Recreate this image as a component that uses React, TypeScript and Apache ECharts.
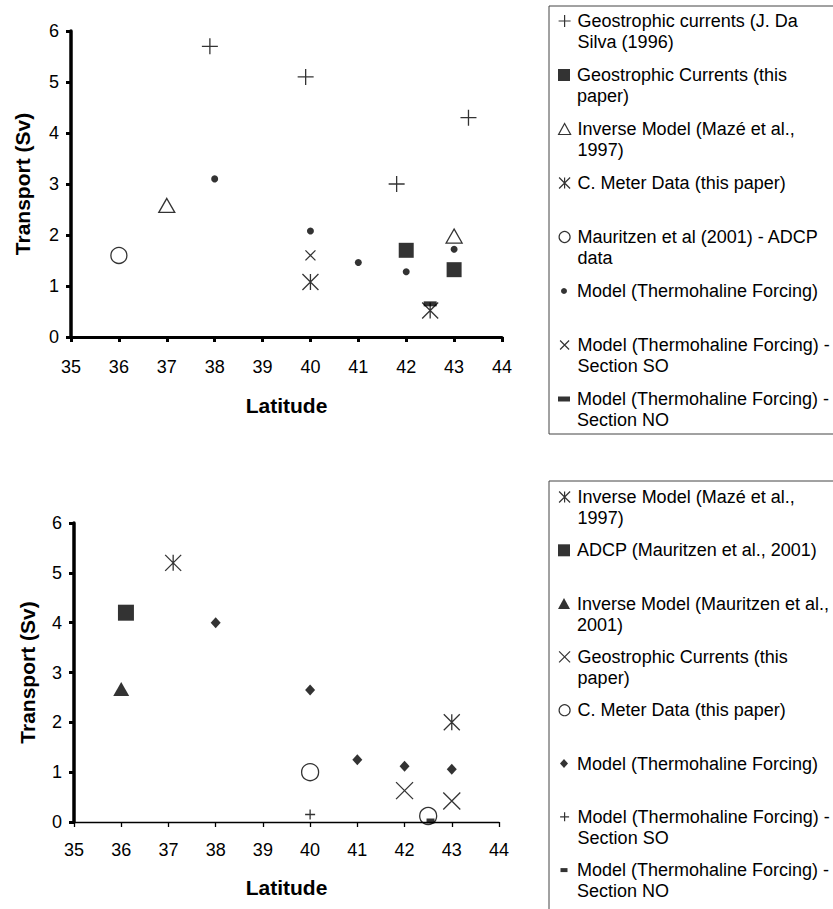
import React, { useEffect, useRef } from "react";
import * as echarts from "echarts";

const FONT = '"Liberation Sans", Arial, Helvetica, sans-serif';

// ---- upper panel: transport vs latitude ----
const upDaSilva = [[37.9, 5.7], [39.9, 5.1], [41.8, 3.0], [43.3, 4.3]];
const upGeoThis = [[42, 1.7], [43, 1.32]];
const upInverseMaze = [[37, 2.58], [43, 1.98]];
const upCMeter = [[40, 1.08], [42.5, 0.52]];
const upMauritzenAdcp = [[36, 1.6]];
const upModel = [[38, 3.1], [40, 2.08], [41, 1.46], [42, 1.28], [43, 1.72]];
const upModelSO = [[40, 1.6]];
const upModelNO = [[42.5, 0.65]];

// ---- lower panel ----
const loInverseMaze = [[37.1, 5.2], [43, 2.0]];
const loAdcp = [[36.1, 4.2]];
const loInverseMauritzen = [[36, 2.67]];
const loGeoThis = [[42, 0.63], [43, 0.42]];
const loCMeter = [[40, 1.0], [42.5, 0.12]];
const loModel = [[38, 4.0], [40, 2.65], [41, 1.25], [42, 1.12], [43, 1.06]];
const loModelSO = [[40, 0.15]];
const loModelNO = [[42.55, 0.02]];

const latTicks = { min: 35, max: 44, step: 1 };
const transportTicks = { min: 0, max: 6, step: 1 };

const PLUS = "path://M5,0L5,10M0,5L10,5";
const CROSS = "path://M0,0L10,10M10,0L0,10";
const STAR = "path://M0,0L10,10M10,0L0,10M5,0L5,10";

type Entry = {
  key: string;
  label: string;
  data: number[][];
  symbol: string;
  size: number | number[];
  filled: boolean;
  lw: number;
  lh: number;
};

const upperEntries: Entry[] = [
  { key: "daSilva", label: "Geostrophic currents (J. Da\nSilva (1996)", data: upDaSilva, symbol: PLUS, size: 16, filled: false, lw: 12, lh: 12 },
  { key: "geoThis", label: "Geostrophic Currents (this\npaper)", data: upGeoThis, symbol: "rect", size: 15, filled: true, lw: 12, lh: 12 },
  { key: "inverseMaze", label: "Inverse Model (Mazé et al.,\n1997)", data: upInverseMaze, symbol: "triangle", size: [16, 14], filled: false, lw: 12, lh: 11 },
  { key: "cMeter", label: "C. Meter Data (this paper)", data: upCMeter, symbol: STAR, size: 16, filled: false, lw: 11, lh: 11 },
  { key: "mauritzenAdcp", label: "Mauritzen et al (2001) - ADCP\ndata", data: upMauritzenAdcp, symbol: "circle", size: 16, filled: false, lw: 11, lh: 11 },
  { key: "model", label: "Model (Thermohaline Forcing)", data: upModel, symbol: "circle", size: 7, filled: true, lw: 6, lh: 6 },
  { key: "modelSO", label: "Model (Thermohaline Forcing) -\nSection SO", data: upModelSO, symbol: CROSS, size: 10, filled: false, lw: 9, lh: 9 },
  { key: "modelNO", label: "Model (Thermohaline Forcing) -\nSection NO", data: upModelNO, symbol: "rect", size: [13, 5], filled: true, lw: 12, lh: 5 },
];

const lowerEntries: Entry[] = [
  { key: "inverseMaze", label: "Inverse Model (Mazé et al.,\n1997)", data: loInverseMaze, symbol: STAR, size: 16, filled: false, lw: 11, lh: 11 },
  { key: "adcp", label: "ADCP (Mauritzen et al., 2001)", data: loAdcp, symbol: "rect", size: 16, filled: true, lw: 12, lh: 12 },
  { key: "inverseMauritzen", label: "Inverse Model (Mauritzen et al.,\n2001)", data: loInverseMauritzen, symbol: "triangle", size: [16, 14], filled: true, lw: 12, lh: 11 },
  { key: "geoThis", label: "Geostrophic Currents (this\npaper)", data: loGeoThis, symbol: CROSS, size: 17, filled: false, lw: 11, lh: 11 },
  { key: "cMeter", label: "C. Meter Data (this paper)", data: loCMeter, symbol: "circle", size: 17, filled: false, lw: 11, lh: 11 },
  { key: "model", label: "Model (Thermohaline Forcing)", data: loModel, symbol: "diamond", size: [10, 11], filled: true, lw: 8, lh: 9 },
  { key: "modelSO", label: "Model (Thermohaline Forcing) -\nSection SO", data: loModelSO, symbol: PLUS, size: 10, filled: false, lw: 9, lh: 9 },
  { key: "modelNO", label: "Model (Thermohaline Forcing) -\nSection NO", data: loModelNO, symbol: "rect", size: [8, 5], filled: true, lw: 7, lh: 4 },
];

const SYM_X = 564;
const TEXT_X = 577;
const LINE_H = 21;

function makeSeries(entries: Entry[]) {
  return entries.map((e) => ({
    type: "scatter",
    name: e.key,
    data: e.data,
    symbol: e.symbol,
    symbolSize: e.size,
    itemStyle: e.filled
      ? { color: "#000", borderWidth: 0 }
      : { color: "transparent", borderColor: "#000", borderWidth: 1.3 },
    emphasis: { disabled: true },
  }));
}

// One legend block per entry; a two-line label gets an empty leading line so
// that its first line sits level with the icon. A rich-text left padding keeps
// every label starting at the same x whatever the icon width.
function makeLegends(entries: Entry[], firstLineY: number, step: number) {
  return entries.map((e, i) => {
    const lines = e.label.split("\n");
    const cy = firstLineY + i * step;
    const left = SYM_X - e.lw / 2;
    const pad = Math.max(0, TEXT_X - (left + e.lw + 5));
    const rows = lines.length === 2 ? [" ", ...lines] : lines;
    const text = rows.map((r) => `{t|${r}}`).join("\n");
    return {
      data: [e.key],
      left,
      top: cy - (lines.length === 2 ? 1.5 * LINE_H : 0.5 * LINE_H),
      padding: 0,
      itemWidth: e.lw,
      itemHeight: e.lh,
      selectedMode: false,
      formatter: () => text,
      itemStyle: { borderWidth: e.filled ? 0 : 1.2 },
      textStyle: {
        fontFamily: FONT,
        fontSize: 18,
        color: "#000",
        lineHeight: LINE_H,
        rich: {
          t: {
            fontFamily: FONT,
            fontSize: 18,
            color: "#000",
            lineHeight: LINE_H,
            padding: [0, 0, 0, pad],
          },
        },
      },
    };
  });
}

function axes(thickX: boolean, labelMargin: number, nameGapX: number, nameGapY: number) {
  const labelStyle = { fontFamily: FONT, fontSize: 18, color: "#000" };
  const nameStyle = { fontFamily: FONT, fontSize: 21, fontWeight: "bold", color: "#000" };
  return {
    xAxis: {
      type: "value",
      min: latTicks.min,
      max: latTicks.max,
      interval: latTicks.step,
      name: "Latitude",
      nameLocation: "middle",
      nameGap: nameGapX,
      nameTextStyle: nameStyle,
      axisLine: { onZero: false, lineStyle: { color: "#000", width: thickX ? 3 : 1.3 } },
      axisTick: { length: 5, lineStyle: { color: "#000", width: thickX ? 3 : 1.3 } },
      axisLabel: { ...labelStyle, margin: labelMargin },
      splitLine: { show: false },
    },
    yAxis: {
      type: "value",
      min: transportTicks.min,
      max: transportTicks.max,
      interval: transportTicks.step,
      name: "Transport (Sv)",
      nameLocation: "middle",
      nameGap: nameGapY,
      nameTextStyle: nameStyle,
      axisLine: { onZero: false, lineStyle: { color: "#000", width: 3.5 } },
      axisTick: { length: 5, lineStyle: { color: "#000", width: 3 } },
      axisLabel: { ...labelStyle, margin: 12 },
      splitLine: { show: false },
    },
  };
}

function upperOption() {
  return {
    animation: false,
    backgroundColor: "#fff",
    grid: { left: 71, top: 31, width: 431, height: 306 },
    ...axes(true, 21, 58, 38),
    legend: makeLegends(upperEntries, 21, 54),
    graphic: [
      {
        type: "rect",
        shape: { x: 549, y: 6, width: 320, height: 428 },
        style: { fill: "none", stroke: "#444", lineWidth: 1 },
        z: -1,
      },
    ],
    series: makeSeries(upperEntries),
  };
}

function lowerOption() {
  return {
    animation: false,
    backgroundColor: "#fff",
    grid: { left: 74, top: 63, width: 425, height: 299 },
    ...axes(false, 19, 55, 36),
    legend: makeLegends(lowerEntries, 37, 53.3),
    graphic: [
      {
        type: "rect",
        shape: { x: 549, y: 21, width: 320, height: 480 },
        style: { fill: "none", stroke: "#444", lineWidth: 1 },
        z: -1,
      },
    ],
    series: makeSeries(lowerEntries),
  };
}

export default function App() {
  const upperRef = useRef<HTMLDivElement>(null);
  const lowerRef = useRef<HTMLDivElement>(null);

  useEffect(() => {
    const upper = echarts.init(upperRef.current!, null, { renderer: "svg" });
    upper.setOption(upperOption() as any);
    const lower = echarts.init(lowerRef.current!, null, { renderer: "svg" });
    lower.setOption(lowerOption() as any);
    return () => {
      upper.dispose();
      lower.dispose();
    };
  }, []);

  return (
    <div style={{ position: "absolute", left: 0, top: 0, width: 833, height: 909, background: "#fff", overflow: "hidden" }}>
      <div ref={upperRef} style={{ position: "absolute", left: 0, top: 0, width: 833, height: 460 }} />
      <div ref={lowerRef} style={{ position: "absolute", left: 0, top: 460, width: 833, height: 449 }} />
    </div>
  );
}
